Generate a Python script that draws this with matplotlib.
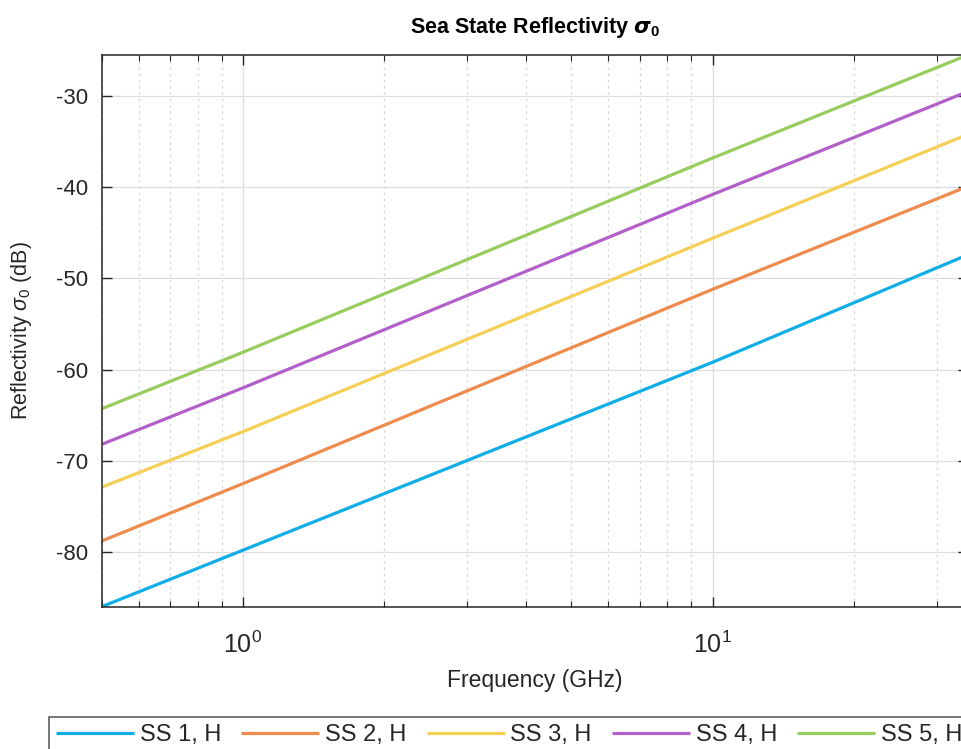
import matplotlib
matplotlib.use("Agg")
import matplotlib.pyplot as plt
from matplotlib.ticker import LogLocator, NullFormatter, FixedLocator

plt.rcParams['font.family'] = ['Liberation Sans', 'DejaVu Sans']
plt.rcParams['axes.unicode_minus'] = False
plt.rcParams['mathtext.fontset'] = 'custom'
plt.rcParams['mathtext.rm'] = 'Liberation Sans'
plt.rcParams['mathtext.it'] = 'Liberation Sans:italic'
plt.rcParams['mathtext.bf'] = 'Liberation Sans:bold'

# Frequency samples (GHz) and reflectivity (dB) for each sea state, horizontal pol.
freq_ghz = [0.5, 1.0, 10.0, 35.0]
ss1_h = [-86.0, -79.8, -59.2, -47.4]
ss2_h = [-78.8, -72.5, -51.2, -39.9]
ss3_h = [-72.9, -66.8, -45.6, -34.2]
ss4_h = [-68.2, -62.0, -40.8, -29.5]
ss5_h = [-64.3, -58.1, -36.8, -25.5]

series_labels = ["SS 1, H", "SS 2, H", "SS 3, H", "SS 4, H", "SS 5, H"]
series_values = [ss1_h, ss2_h, ss3_h, ss4_h, ss5_h]
colors = ["#0FAEE6", "#EE8B4D", "#F5CF55", "#B25FC9", "#98CC5E"]
y_ticks = [-80, -70, -60, -50, -40, -30]

ink = "#262626"

fig = plt.figure(figsize=(9.62, 7.49), dpi=100)
ax = fig.add_axes([0.1057, 0.19, 0.9005, 0.7366])

handles = []
for vals, lab, col in zip(series_values, series_labels, colors):
    h, = ax.plot(freq_ghz, vals, color=col, lw=2.3, label=lab, solid_capstyle='butt')
    handles.append(h)

ax.set_xscale('log')
ax.set_xlim(0.5, 35)
ax.set_ylim(-86.0, -25.5)
ax.yaxis.set_major_locator(FixedLocator(y_ticks))
ax.xaxis.set_major_locator(LogLocator(base=10, numticks=10))
ax.xaxis.set_minor_locator(LogLocator(base=10, subs=range(2, 10), numticks=20))
ax.xaxis.set_minor_formatter(NullFormatter())

ax.grid(True, which='major', color='#dedede', lw=0.9, ls='-')
ax.grid(True, which='minor', axis='x', color='#d6d6d6', lw=0.9, ls=(0, (2, 3)))
ax.set_axisbelow(True)

for s in ax.spines.values():
    s.set_color(ink)
    s.set_linewidth(1.1)

ax.tick_params(which='both', direction='in', top=True, right=True, colors=ink)
ax.tick_params(which='major', length=7, width=1.0)
ax.tick_params(which='minor', length=4, width=0.8)
ax.tick_params(axis='y', labelsize=16, pad=10)
ax.tick_params(axis='x', labelsize=18, pad=18)

ax.set_title(r"Sea State Reflectivity $\boldsymbol{\sigma}_{\mathbf{0}}$",
             fontsize=15.5, fontweight='bold', color='black', pad=16)
ax.set_xlabel("Frequency (GHz)", fontsize=16.5, color=ink)
ax.xaxis.set_label_coords(0.5, -0.133)
ax.xaxis.label.set_verticalalignment('center')
ax.set_ylabel(r"Reflectivity $\sigma_0$ (dB)", fontsize=15.5, color=ink)
ax.yaxis.set_label_coords(-0.092, 0.5)
ax.yaxis.label.set_verticalalignment('center')

leg = fig.legend(handles, series_labels, ncol=5, loc='upper left',
                 bbox_to_anchor=(49 / 962, 1 - 716.7 / 749),
                 bbox_transform=fig.transFigure, borderaxespad=0,
                 frameon=True, fancybox=False, edgecolor=ink,
                 fontsize=17, handlelength=3.3, handletextpad=0.25,
                 columnspacing=0.85, borderpad=0.3)
leg.get_frame().set_linewidth(1.1)
for t in leg.get_texts():
    t.set_color(ink)

fig.savefig("out.png", dpi=100)
